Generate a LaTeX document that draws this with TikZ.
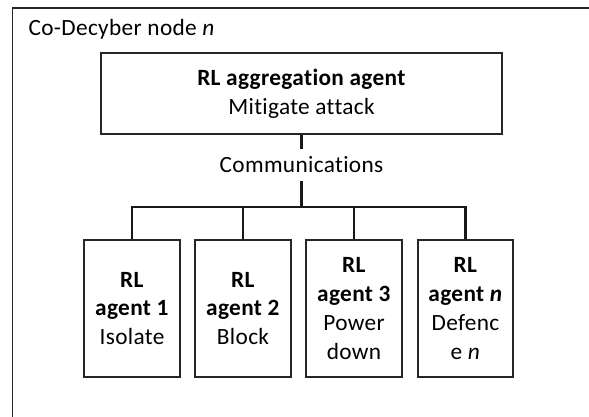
\documentclass[tikz,border=0pt]{standalone}
\usepackage{fontspec}
\setmainfont[Ligatures=NoCommon,LetterSpace=1.5]{Carlito}
\begin{document}
\begin{tikzpicture}[x=1pt,y=-1pt,
  box/.style={draw=black!85, line width=2pt, align=center, inner sep=0pt},
  agentbox/.style={box, minimum width=95.5pt, minimum height=137pt},
  link/.style={draw=black!90, line width=2.2pt},
  lbl/.style={font=\fontsize{23.3}{28.8}\selectfont}]
\useasboundingbox (0,0) rectangle (589,417);
\clip (0,0) rectangle (589,417);
% outer frame of the node (continues past the page)
\draw[draw=black!85, line width=1.8pt] (12.5,440) -- (12.5,8) -- (620,8);
\node[lbl, anchor=base west] (title) at (25,36) {Co-Decyber node \textit{n}};

% aggregation agent
\node[box, lbl, minimum width=401pt, minimum height=81pt] (agg) at (301.5,93.5)
  {\textbf{RL aggregation agent}\\Mitigate attack};
\node[lbl, inner sep=0pt, minimum height=32pt] (comm) at (301.5,165) {Communications};
\coordinate (bus) at (301.5,207);

% local agents
\node[agentbox, lbl] (a1) at (132,308.5) {\textbf{RL}\\\textbf{agent 1}\\Isolate};
\node[agentbox, lbl] (a2) at (243,308.5) {\textbf{RL}\\\textbf{agent 2}\\Block};
\node[agentbox, lbl] (a3) at (354,308.5) {\textbf{RL}\\\textbf{agent 3}\\Power\\down};
\node[agentbox, lbl] (a4) at (465.5,308.5) {\textbf{RL}\\\textbf{agent \textit{n}}\\Defenc\\e \textit{n}};

% communication links
\draw[link] (agg.south) -- (comm.north);
\draw[link] (comm.south) -- (bus);
\draw[link] (a1.north) |- (bus) -| (a4.north);
\draw[link] (a2.north) -- (a2.north |- bus);
\draw[link] (a3.north) -- (a3.north |- bus);
\end{tikzpicture}
\end{document}
